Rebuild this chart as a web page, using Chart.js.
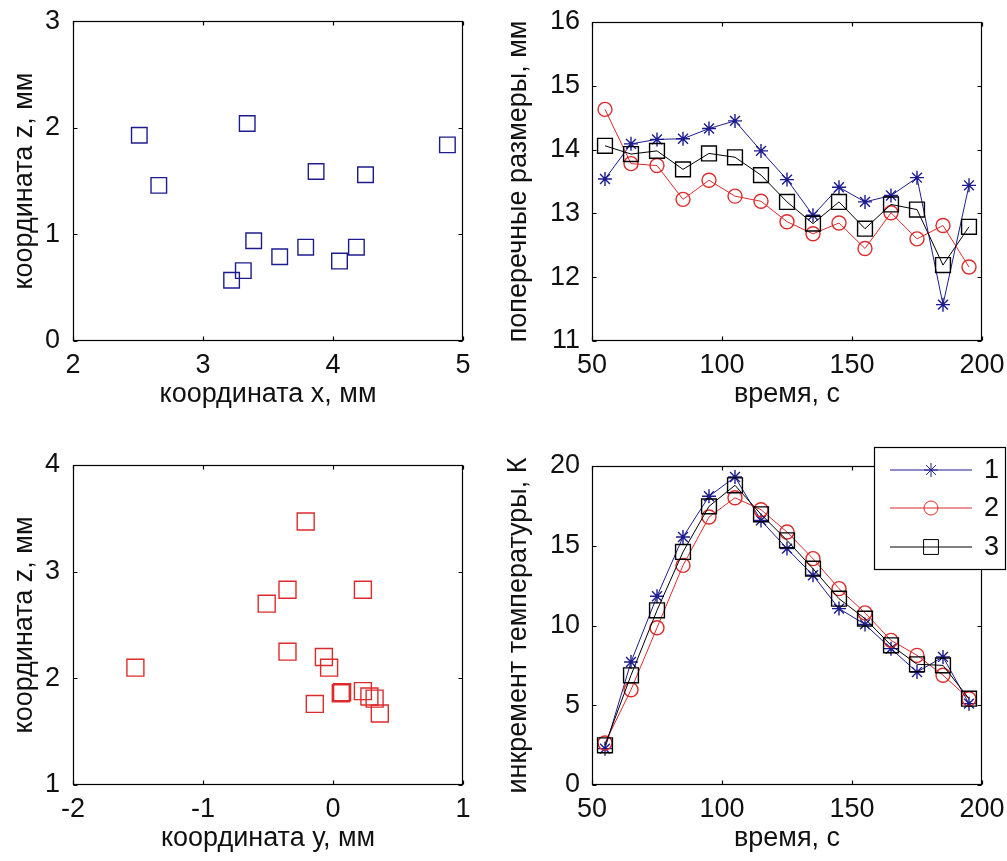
<!DOCTYPE html>
<html>
<head>
<meta charset="utf-8">
<script src="https://cdn.jsdelivr.net/npm/chart.js@4.4.0/dist/chart.umd.min.js"></script>
<style>
  body { margin: 0; background: #fff; }
  #wrap { position: relative; width: 1007px; height: 861px; overflow: hidden; }
  canvas { position: absolute; }
</style>
</head>
<body>
<div id="wrap">
  <canvas id="xz" width="500" height="420" style="left:0;top:0"></canvas>
  <canvas id="size" width="507" height="420" style="left:500px;top:0"></canvas>
  <canvas id="yz" width="500" height="441" style="left:0;top:420px"></canvas>
  <canvas id="temp" width="507" height="441" style="left:500px;top:420px"></canvas>
</div>
<script>
// hot spot positions, mm
const coordX  = [2.51, 2.66, 3.34, 3.87, 4.25, 4.88, 3.39, 3.59, 3.79, 4.05, 4.18, 3.31, 3.22];
const coordZx = [1.93, 1.46, 2.04, 1.59, 1.56, 1.84, 0.94, 0.79, 0.88, 0.75, 0.88, 0.66, 0.57];
const coordY  = [-1.52, -0.21, -0.35, -0.51, 0.23, -0.35, -0.07, -0.03, -0.14, 0.07, 0.06, 0.23, 0.28, 0.32, 0.36];
const coordZy = [2.10, 3.47, 2.83, 2.70, 2.83, 2.25, 2.20, 2.10, 1.76, 1.87, 1.86, 1.88, 1.83, 1.81, 1.67];

// time series for the three runs
const timeSec  = [55, 65, 75, 85, 95, 105, 115, 125, 135, 145, 155, 165, 175, 185, 195];
const sizeRun1 = [13.54, 14.09, 14.16, 14.17, 14.33, 14.45, 13.98, 13.53, 12.97, 13.41, 13.18, 13.28, 13.56, 11.57, 13.44];
const sizeRun2 = [14.63, 13.78, 13.75, 13.22, 13.52, 13.27, 13.19, 12.87, 12.68, 12.85, 12.45, 13.01, 12.60, 12.81, 12.16];
const sizeRun3 = [14.06, 13.93, 13.98, 13.69, 13.94, 13.88, 13.60, 13.18, 12.84, 13.18, 12.76, 13.14, 13.06, 12.19, 12.79];
const tempRun1 = [2.28, 7.71, 11.83, 15.55, 18.10, 19.31, 16.59, 14.82, 13.15, 11.06, 10.07, 8.55, 7.08, 8.03, 5.10];
const tempRun2 = [2.63, 5.97, 9.86, 13.77, 16.80, 18.01, 17.26, 15.86, 14.19, 12.31, 10.79, 9.07, 8.13, 6.88, 5.41];
const tempRun3 = [2.49, 6.88, 10.95, 14.61, 17.47, 18.79, 16.97, 15.34, 13.56, 11.68, 10.43, 8.76, 7.57, 7.50, 5.41];
const runLabels = ['1', '2', '3'];

// tick values
const ticksX    = [2, 3, 4, 5];
const ticksZtop = [0, 1, 2, 3];
const ticksY    = [-2, -1, 0, 1];
const ticksZbot = [1, 2, 3, 4];
const ticksTime = [50, 100, 150, 200];
const ticksSize = [11, 12, 13, 14, 15, 16];
const ticksTemp = [0, 5, 10, 15, 20];

const FONT = "'Liberation Sans', Arial, sans-serif";
const INK = '#111';
const BLUE = '#1c1c8e', RED = '#dd2b2b', BLACK = '#000';
const tickFont = {family: FONT, size: 27};

function axis(values, o) {
  return {
    type: 'linear',
    min: values[0],
    max: values[values.length - 1],
    afterBuildTicks: s => { s.ticks = values.map(v => ({value: v})); },
    afterFit: s => { if (s.isHorizontal()) s.height = o.size; else s.width = o.size; },
    grid: {display: false},
    border: {display: false},
    ticks: {font: tickFont, color: INK, padding: o.pad, autoSkip: false, maxRotation: 0,
            callback: v => String(v)},
    title: o.title
      ? {display: true, text: o.title, font: tickFont, color: INK, padding: {top: 0, bottom: o.titlePad}}
      : {display: false}
  };
}

// matlab-style box with inward ticks on all four sides
const axesBox = {
  id: 'axesBox',
  afterDatasetsDraw(chart) {
    const {ctx, chartArea: a, scales} = chart;
    const L = Math.round(a.left) + 0.5, R = Math.round(a.right) - 0.5;
    const T = Math.round(a.top) + 0.5, B = Math.round(a.bottom) - 0.5;
    ctx.save();
    ctx.strokeStyle = '#000';
    ctx.lineWidth = 1.2;
    ctx.strokeRect(L, T, R - L, B - T);
    ctx.beginPath();
    scales.x.ticks.forEach(t => {
      const p = Math.round(scales.x.getPixelForValue(t.value)) + 0.5;
      ctx.moveTo(p, B); ctx.lineTo(p, B - 4);
      ctx.moveTo(p, T); ctx.lineTo(p, T + 4);
    });
    scales.y.ticks.forEach(t => {
      const p = Math.round(scales.y.getPixelForValue(t.value)) + 0.5;
      ctx.moveTo(L, p); ctx.lineTo(L + 4, p);
      ctx.moveTo(R, p); ctx.lineTo(R - 4, p);
    });
    ctx.stroke();
    ctx.restore();
  }
};

// rotated y-axis label, drawn without width clamping
const yTitle = {
  id: 'yTitle',
  afterDraw(chart, args, o) {
    const {ctx, chartArea: a} = chart;
    ctx.save();
    ctx.translate(o.x, (a.top + a.bottom) / 2 + (o.dy || 0));
    ctx.rotate(-Math.PI / 2);
    ctx.font = o.size + 'px ' + FONT;
    ctx.fillStyle = INK;
    ctx.textAlign = 'center';
    ctx.textBaseline = 'middle';
    ctx.fillText(o.text, 0, 0);
    ctx.restore();
  }
};

// boxed legend in the upper right corner
const runLegend = {
  id: 'runLegend',
  afterDraw(chart, args, o) {
    const {ctx} = chart;
    ctx.save();
    ctx.fillStyle = '#fff';
    ctx.fillRect(o.left, o.top, o.width, o.height);
    ctx.strokeStyle = '#000';
    ctx.lineWidth = 1.2;
    ctx.strokeRect(o.left + 0.5, o.top + 0.5, o.width, o.height);
    chart.data.datasets.forEach((ds, i) => {
      const y = o.top + o.rows[i];
      ctx.strokeStyle = ds.borderColor;
      ctx.lineWidth = 1;
      ctx.beginPath();
      ctx.moveTo(o.left + 16, y); ctx.lineTo(o.left + 98, y);
      ctx.stroke();
      ctx.strokeStyle = ds.pointBorderColor;
      ctx.fillStyle = 'rgba(0,0,0,0)';
      Chart.helpers.drawPoint(ctx, {pointStyle: ds.pointStyle, radius: ds.pointRadius,
        borderWidth: ds.pointBorderWidth, rotation: 0}, o.left + 57, y);
      ctx.fillStyle = INK;
      ctx.font = '27px ' + FONT;
      ctx.textAlign = 'left';
      ctx.textBaseline = 'middle';
      ctx.fillText(runLabels[i], o.left + 110, y + 1);
    });
    ctx.restore();
  }
};

function scatterSet(xs, zs, color, radius) {
  return {
    data: xs.map((v, i) => ({x: v, y: zs[i]})),
    pointStyle: 'rect', pointRadius: radius,
    pointBorderColor: color, pointBackgroundColor: 'rgba(0,0,0,0)', pointBorderWidth: 1.4,
    showLine: false
  };
}

function runSet(values, color, style, radius, order) {
  return {
    data: timeSec.map((t, i) => ({x: t, y: values[i]})),
    borderColor: color, borderWidth: 1, tension: 0,
    pointStyle: style, pointRadius: radius,
    pointBorderColor: color, pointBackgroundColor: 'rgba(0,0,0,0)', pointBorderWidth: 1.4,
    order: order
  };
}

function baseOptions(pad, yLabel, legend) {
  const plugins = {legend: {display: false}, tooltip: {enabled: false}, yTitle: yLabel};
  if (legend) plugins.runLegend = legend;
  return {responsive: false, animation: false, devicePixelRatio: 1,
          layout: {padding: pad}, plugins: plugins};
}

// x-z scatter
new Chart(document.getElementById('xz'), {
  type: 'scatter',
  data: {datasets: [scatterSet(coordX, coordZx, BLUE, 11)]},
  options: Object.assign(baseOptions({top: 21, right: 37, left: 0, bottom: 0},
      {text: 'координата z, мм', x: 25, size: 27, dy: 0}), {
    scales: {
      x: axis(ticksX, {size: 79, pad: 0, title: 'координата x, мм', titlePad: 9}),
      y: axis(ticksZtop, {size: 73, pad: 5})
    }
  }),
  plugins: [axesBox, yTitle]
});

// transverse size vs time
new Chart(document.getElementById('size'), {
  type: 'line',
  data: {datasets: [
    runSet(sizeRun1, BLUE, 'star', 7, 2),
    runSet(sizeRun2, RED, 'circle', 7, 1),
    runSet(sizeRun3, BLACK, 'rect', 10.5, 0)
  ]},
  options: Object.assign(baseOptions({top: 22, right: 25, left: 0, bottom: 0},
      {text: 'поперечные размеры, мм', x: 19, size: 27, dy: 0}), {
    scales: {
      x: axis(ticksTime, {size: 79, pad: 0, title: 'время, с', titlePad: 9}),
      y: axis(ticksSize, {size: 92, pad: 4})
    }
  }),
  plugins: [axesBox, yTitle]
});

// y-z scatter
new Chart(document.getElementById('yz'), {
  type: 'scatter',
  data: {datasets: [scatterSet(coordY, coordZy, RED, 12)]},
  options: Object.assign(baseOptions({top: 45, right: 37, left: 0, bottom: 0},
      {text: 'координата z, мм', x: 25, size: 27, dy: 0}), {
    scales: {
      x: axis(ticksY, {size: 76, pad: 0, title: 'координата у, мм', titlePad: 6}),
      y: axis(ticksZbot, {size: 73, pad: 5})
    }
  }),
  plugins: [axesBox, yTitle]
});

// temperature increment vs time
new Chart(document.getElementById('temp'), {
  type: 'line',
  data: {datasets: [
    runSet(tempRun1, BLUE, 'star', 7, 2),
    runSet(tempRun2, RED, 'circle', 7, 1),
    runSet(tempRun3, BLACK, 'rect', 10.5, 0)
  ]},
  options: Object.assign(baseOptions({top: 46, right: 25, left: 0, bottom: 0},
      {text: 'инкремент температуры, К', x: 19, size: 27, dy: 0},
      {left: 374, top: 27, width: 131, height: 122, rows: [23, 61, 100]}), {
    scales: {
      x: axis(ticksTime, {size: 76, pad: 0, title: 'время, с', titlePad: 6}),
      y: axis(ticksTemp, {size: 92, pad: 4})
    }
  }),
  plugins: [axesBox, yTitle, runLegend]
});
</script>
</body>
</html>
